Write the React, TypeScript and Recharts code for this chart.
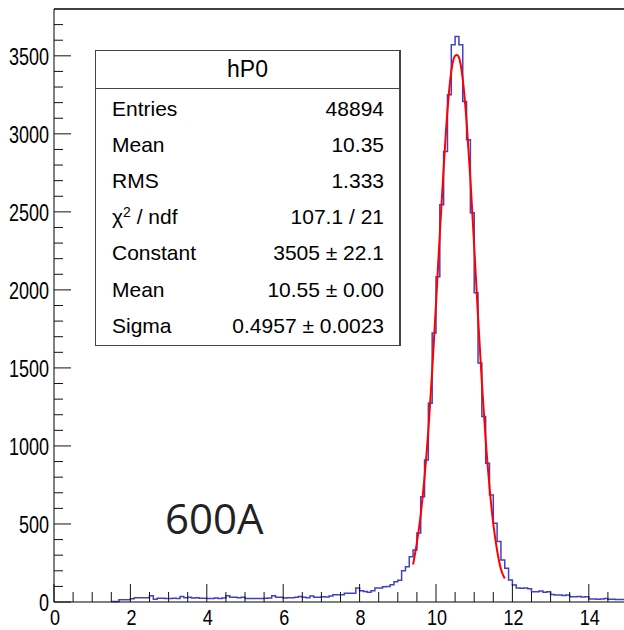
import React from "react";
import { ComposedChart, Line, XAxis, YAxis, ReferenceLine } from "recharts";

// histogram hP0: 0.1 wide bins starting at 1.5
const histStart = 1.5;
const binWidth = 0.1;
const counts = [
  4, 4, 15, 15, 15, 21, 28, 28, 28, 28,
  40, 17, 24, 24, 22, 22, 24, 22, 36, 28,
  30, 26, 28, 24, 24, 23, 23, 25, 23, 26,
  40, 30, 30, 28, 30, 23, 23, 23, 23, 23,
  24, 26, 40, 30, 30, 26, 28, 28, 30, 36,
  30, 28, 38, 30, 30, 34, 32, 38, 47, 47,
  47, 56, 56, 56, 90, 72, 68, 62, 72, 90,
  90, 98, 100, 110, 130, 140, 200, 226, 290, 333,
  442, 675, 910, 1274, 1724, 2085, 2545, 2887, 3250, 3571,
  3624, 3571, 3207, 2962, 2494, 1981, 1532, 1188, 889, 686,
  504, 387, 269, 216, 141, 109, 90, 88, 90, 85,
  66, 66, 70, 62, 66, 48, 45, 45, 42, 45,
  34, 34, 36, 32, 34, 19, 19, 18, 20, 22,
  18, 18, 16, 16, 16,
];

// gaus fit curve
const fitX = [9.4, 9.5, 9.6, 9.7, 9.8, 9.9, 10.0, 10.1, 10.2, 10.3, 10.4, 10.5, 10.55, 10.6, 10.7, 10.8, 10.9, 11.0, 11.1, 11.2, 11.3, 11.4, 11.5, 11.6, 11.7, 11.8];
const fitY = [240, 380, 560, 800, 1100, 1480, 1910, 2360, 2780, 3150, 3400, 3500, 3505, 3490, 3350, 3080, 2710, 2280, 1830, 1410, 1040, 740, 500, 330, 210, 150];

const xTicks = [0, 0.5, 1, 1.5, 2, 2.5, 3, 3.5, 4, 4.5, 5, 5.5, 6, 6.5, 7, 7.5, 8, 8.5, 9, 9.5, 10, 10.5, 11, 11.5, 12, 12.5, 13, 13.5, 14, 14.5];
const yTicks = [0, 100, 200, 300, 400, 500, 600, 700, 800, 900, 1000, 1100, 1200, 1300, 1400, 1500, 1600, 1700, 1800, 1900, 2000, 2100, 2200, 2300, 2400, 2500, 2600, 2700, 2800, 2900, 3000, 3100, 3200, 3300, 3400, 3500, 3600, 3700];

const statTitle = "hP0";
const statLabels = ["Entries", "Mean", "RMS", "χ2 / ndf", "Constant", "Mean", "Sigma"];
const statValues = ["48894", "10.35", "1.333", "107.1 / 21", "3505 ± 22.1", "10.55 ± 0.00", "0.4957 ± 0.0023"];

const FONT = "'Liberation Sans', Arial, Helvetica, sans-serif";

const histData = counts
  .map((c, i) => ({ x: +(histStart + i * binWidth).toFixed(2), y: c }))
  .concat([{ x: 15, y: counts[counts.length - 1] }]);
const fitData = fitX.map((x, i) => ({ x, y: fitY[i] }));

function YTick(props: any) {
  const { x, y, payload } = props;
  const major = payload.value % 500 === 0;
  return (
    <g>
      <line x1={x} y1={y} x2={x + (major ? 17 : 9)} y2={y} stroke="#111" strokeWidth={1} />
      {major && (
        <g transform={`translate(${x - 5},${y + 1}) scale(1,1.28)`}>
          <text x={0} y={6.4} textAnchor="end" fontFamily={FONT} fontSize={18} fill="#000">
            {payload.value}
          </text>
        </g>
      )}
    </g>
  );
}

function XTick(props: any) {
  const { x, y, payload } = props;
  const major = payload.value % 2 === 0;
  return (
    <g>
      <line x1={x} y1={y} x2={x} y2={y - (major ? 18 : 10)} stroke="#111" strokeWidth={1} />
      {major && (
        <g transform={`translate(${x + 1},${y + 15}) scale(1,1.22)`}>
          <text x={0} y={6.4} textAnchor="middle" fontFamily={FONT} fontSize={18} fill="#000">
            {payload.value}
          </text>
        </g>
      )}
    </g>
  );
}

function renderLabel(s: string) {
  if (s.startsWith("χ2")) {
    return (
      <span>
        χ<sup style={{ fontSize: 14, verticalAlign: "7px", lineHeight: 0 }}>2</sup>
        {s.slice(2)}
      </span>
    );
  }
  return s;
}

export default function App() {
  return (
    <div style={{ position: "absolute", left: 0, top: 0, width: 624, height: 630, overflow: "hidden", background: "#fff" }}>
      <ComposedChart width={640} height={630} margin={{ top: 9, right: 13, bottom: 0, left: 0 }}>
        <XAxis
          type="number"
          dataKey="x"
          domain={[0, 15]}
          ticks={xTicks}
          interval={0}
          height={28}
          tickLine={false}
          tickSize={0}
          tickMargin={0}
          axisLine={{ stroke: "#000" }}
          tick={(p: any) => <XTick {...p} />}
        />
        <YAxis
          type="number"
          domain={[0, 3800]}
          ticks={yTicks}
          interval={0}
          width={54}
          tickLine={false}
          tickSize={0}
          tickMargin={0}
          axisLine={{ stroke: "#000" }}
          tick={(p: any) => <YTick {...p} />}
        />
        <ReferenceLine y={3800} stroke="#000" strokeWidth={1.5} />
        <Line
          data={histData}
          dataKey="y"
          type="stepAfter"
          stroke="#4040c8"
          strokeWidth={1.5}
          dot={false}
          isAnimationActive={false}
        />
        <Line
          data={fitData}
          dataKey="y"
          type="monotone"
          stroke="#ff0000"
          strokeWidth={2}
          dot={false}
          isAnimationActive={false}
        />
      </ComposedChart>

      <div
        style={{
          position: "absolute",
          left: 95,
          top: 50,
          width: 306,
          height: 296,
          boxSizing: "border-box",
          border: "1px solid #444",
          borderRightWidth: 2,
          background: "#fff",
          fontFamily: FONT,
          color: "#000",
        }}
      >
        <div style={{ height: 37, lineHeight: "37px", textAlign: "center", fontSize: 23, borderBottom: "1px solid #444" }}>
          {statTitle}
        </div>
        <div style={{ paddingTop: 1.5 }}>
          {statLabels.map((l, i) => (
            <div
              key={i}
              style={{
                height: 36.2,
                display: "flex",
                alignItems: "center",
                justifyContent: "space-between",
                padding: "0 15px 0 16px",
                fontSize: 21,
              }}
            >
              <span>{renderLabel(l)}</span>
              <span>{statValues[i]}</span>
            </div>
          ))}
        </div>
      </div>

      <svg width={624} height={630} style={{ position: "absolute", left: 0, top: 0, pointerEvents: "none" }}>
        <text x={165} y={534} fontFamily="'Open Sans', sans-serif" fontSize={42} fill="#222">
          600A
        </text>
      </svg>
    </div>
  );
}
